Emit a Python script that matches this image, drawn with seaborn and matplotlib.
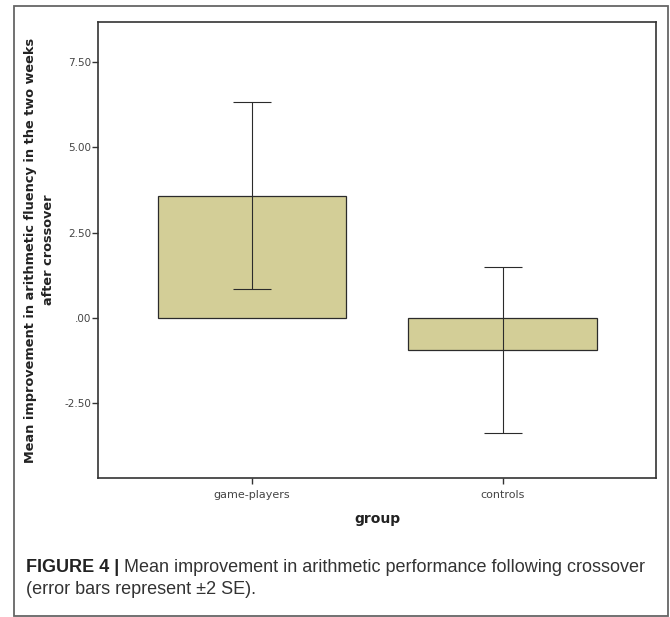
import matplotlib
matplotlib.use("Agg")
import matplotlib.pyplot as plt
import seaborn as sns
from matplotlib.patches import Rectangle

groups = ["game-players", "controls"]
mean_improvement = [3.58, -0.93]
two_se = [2.73, 2.43]
ytick_values = [-2.5, 0.0, 2.5, 5.0, 7.5]
ytick_labels = ["-2.50", ".00", "2.50", "5.00", "7.50"]

sns.set_theme(style="white")
plt.rcParams['font.family'] = ['DejaVu Sans']

fig = plt.figure(figsize=(6.70, 6.17), dpi=100)
ax = fig.add_axes([98 / 670, 1 - 478 / 617, 558 / 670, 456 / 617])

sns.barplot(x=groups, y=mean_improvement, color="#d3ce97", saturation=1,
            width=0.753, edgecolor="#2b2b2b", linewidth=0.9, errorbar=None, ax=ax)
ax.errorbar(x=[0, 1], y=mean_improvement, yerr=two_se, fmt="none",
            ecolor="#2b2b2b", elinewidth=0.8, capsize=14, capthick=0.8)

ax.set_xlim(-0.614, 1.611)
ax.set_ylim(-4.68, 8.66)
ax.set_yticks(ytick_values)
ax.set_yticklabels(ytick_labels)

for side in ax.spines.values():
    side.set_color("#333333")
    side.set_linewidth(1.2)
ax.tick_params(axis="both", which="both", direction="out", length=4, width=1,
               color="#333333", labelcolor="#444444", left=True, bottom=True)
ax.tick_params(axis="y", labelsize=7.5, pad=1)
ax.tick_params(axis="x", labelsize=8, pad=5)

ax.set_xlabel("group", fontsize=10, fontweight="bold", color="#222222", labelpad=8)
ax.set_ylabel("Mean improvement in arithmetic fluency in the two weeks\nafter crossover",
              fontsize=9.3, fontweight="bold", color="#222222", linespacing=1.5)
ax.yaxis.set_label_coords(-0.077, 0.5)

# outer frame of the figure panel
fig.patches.append(Rectangle((14 / 670, 1 - 616 / 617), 654 / 670, 610 / 617,
                             transform=fig.transFigure, fill=False,
                             edgecolor="#666666", linewidth=1.3))

# caption, bold lead-in followed by regular text
cap_font = ['Liberation Sans', 'DejaVu Sans']
renderer = fig.canvas.get_renderer()
lead = fig.text(26 / 670, 1 - 567 / 617, "FIGURE 4 | ", family=cap_font,
                fontsize=13, fontweight="bold", color="#222222", va="center")
bb = lead.get_window_extent(renderer=renderer)
fig.text(bb.x1 / fig.bbox.width, 1 - 567 / 617,
         "Mean improvement in arithmetic performance following crossover",
         family=cap_font, fontsize=13, color="#333333", va="center")
fig.text(26 / 670, 1 - 589 / 617, "(error bars represent \u00b12 SE).",
         family=cap_font, fontsize=13, color="#333333", va="center")

fig.savefig("out.png", dpi=100)
